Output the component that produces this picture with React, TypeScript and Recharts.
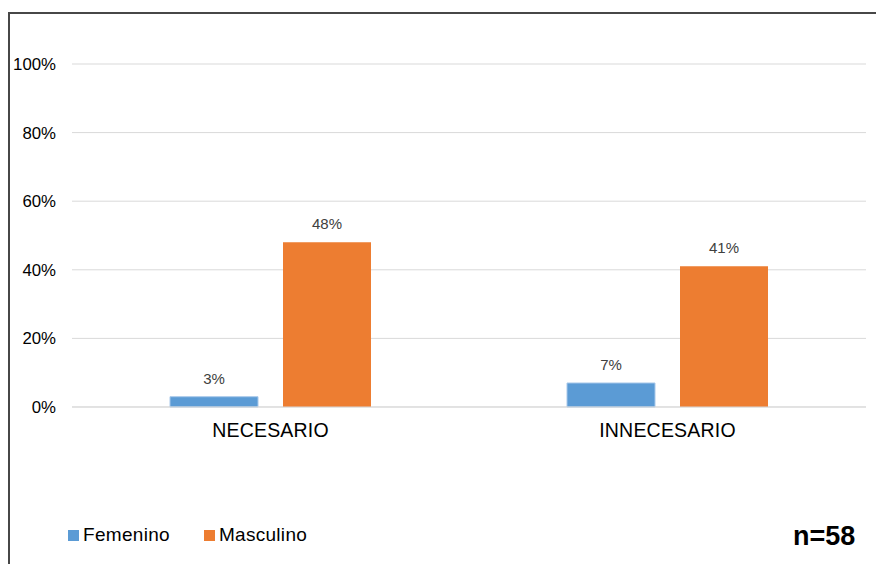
import React from 'react';
import { BarChart, Bar, XAxis, YAxis, CartesianGrid, Legend, LabelList } from 'recharts';

// Share of respondents by opinion and sex (n=58)
const categories = ['NECESARIO', 'INNECESARIO'];
const femenino = [3, 7];
const masculino = [48, 41];
const yTicks = [0, 20, 40, 60, 80, 100];

const seriesNames = { femenino: 'Femenino', masculino: 'Masculino' };
const colors = { femenino: '#5B9BD5', masculino: '#ED7D31' };

const data = categories.map((name, i) => ({
  name,
  femenino: femenino[i],
  masculino: masculino[i],
}));

const FONT = '"Liberation Sans", Arial, sans-serif';

const pct = (v: number | string) => `${v}%`;

function LegendContent() {
  const items = [
    { key: 'femenino', label: seriesNames.femenino, color: colors.femenino },
    { key: 'masculino', label: seriesNames.masculino, color: colors.masculino },
  ];
  return (
    <div style={{ display: 'flex', alignItems: 'center', fontFamily: FONT, fontSize: 19, lineHeight: '22px', color: '#000', letterSpacing: 0.3 }}>
      {items.map((it, i) => (
        <div key={it.key} style={{ display: 'flex', alignItems: 'center', marginRight: i === 0 ? 34 : 0 }}>
          <span style={{ display: 'inline-block', width: 11, height: 11, background: it.color, marginRight: 4 }} />
          <span style={{ whiteSpace: 'nowrap' }}>{it.label}</span>
        </div>
      ))}
    </div>
  );
}

export default function App() {
  return (
    <div style={{ position: 'absolute', left: 0, top: 0, width: 876, height: 564, background: '#fff', overflow: 'hidden' }}>
      <div
        style={{
          position: 'absolute',
          left: 8,
          top: 12,
          width: 900,
          height: 600,
          borderLeft: '2px solid #474747',
          borderTop: '2px solid #474747',
        }}
      />
      <BarChart
        width={876}
        height={564}
        data={data}
        margin={{ top: 64, right: 10, left: 0, bottom: 127 }}
        barGap={25}
        style={{ position: 'absolute', left: 0, top: 0 }}
      >
        <CartesianGrid vertical={false} stroke="#d9d9d9" />
        <XAxis
          dataKey="name"
          height={30}
          axisLine={{ stroke: '#d9d9d9' }}
          tickLine={false}
          tickSize={0}
          tickMargin={16}
          tick={{ fontFamily: FONT, fontSize: 19.5, fill: '#000', letterSpacing: 0.2 }}
        />
        <YAxis
          width={72}
          domain={[0, 100]}
          ticks={yTicks}
          tickFormatter={pct}
          axisLine={false}
          tickLine={false}
          tickSize={0}
          tickMargin={16}
          tick={{ fontFamily: FONT, fontSize: 16.8, fill: '#000' }}
        />
        <Legend
          layout="horizontal"
          verticalAlign="middle"
          align="center"
          wrapperStyle={{ left: 68, top: 524, width: 'auto', height: 'auto' }}
          content={<LegendContent />}
        />
        <Bar dataKey="femenino" name={seriesNames.femenino} fill={colors.femenino} stroke="#a8c8ea" strokeWidth={1} barSize={88} isAnimationActive={false}>
          <LabelList dataKey="femenino" position="top" offset={13} formatter={pct} style={{ fontFamily: FONT, fontSize: 15, fill: '#404040' }} />
        </Bar>
        <Bar dataKey="masculino" name={seriesNames.masculino} fill={colors.masculino} barSize={88} isAnimationActive={false}>
          <LabelList dataKey="masculino" position="top" offset={13} formatter={pct} style={{ fontFamily: FONT, fontSize: 15, fill: '#404040' }} />
        </Bar>
      </BarChart>
      <div
        style={{
          position: 'absolute',
          left: 793,
          top: 523,
          fontFamily: FONT,
          fontWeight: 'bold',
          fontSize: 27,
          lineHeight: '26px',
          color: '#000',
          whiteSpace: 'nowrap',
        }}
      >
        n=58
      </div>
    </div>
  );
}
